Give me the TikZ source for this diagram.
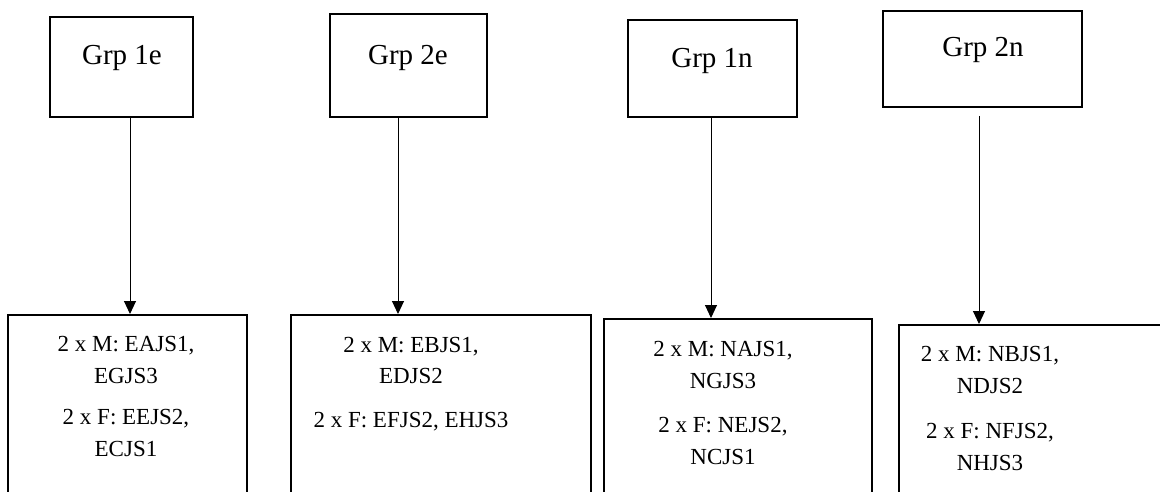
\documentclass[tikz,border=0pt]{standalone}
\usepackage{fontspec}
\setmainfont{Liberation Serif}
\usetikzlibrary{arrows.meta}

\begin{document}
\begin{tikzpicture}[
    x=1pt, y=-1pt,
    grpbox/.style={draw, line width=2pt, inner sep=0pt},
    grplabel/.style={anchor=base, inner sep=0pt, font=\fontsize{29}{34}\selectfont},
    membox/.style={draw, line width=2pt, inner sep=0pt},
    memlabel/.style={anchor=base, inner sep=0pt, align=center, font=\fontsize{23}{31.5}\selectfont},
    arr/.style={-{Triangle[width=12pt, length=13pt]}, line width=1pt}
  ]
  \useasboundingbox (0,0) rectangle (1160,492);
  \clip (0,0) rectangle (1160,492);
  % group boxes
  \node[grpbox, minimum width=143pt, minimum height=100pt] (g1e) at (121.5,67) {};
  \node[grpbox, minimum width=157pt, minimum height=103pt] (g2e) at (408.5,65.5) {};
  \node[grpbox, minimum width=169pt, minimum height=97pt] (g1n) at (712.5,68.5) {};
  \node[grpbox, minimum width=199pt, minimum height=96pt] (g2n) at (982.5,59) {};
  \node[grplabel] (t1e) at (122,65) {Grp 1e};
  \node[grplabel] (t2e) at (408,65) {Grp 2e};
  \node[grplabel] (t1n) at (712,68) {Grp 1n};
  \node[grplabel] (t2n) at (983,57) {Grp 2n};
  % member boxes (labels sit on their last baseline)
  \node[membox, minimum width=239pt, minimum height=185pt] (m1e) at (127.5,407.5) {};
  \node[membox, minimum width=300pt, minimum height=185pt] (m2e) at (441,407.5) {};
  \node[membox, minimum width=268pt, minimum height=181pt] (m1n) at (738,409.5) {};
  \node[membox, minimum width=271pt, minimum height=175pt] (m2n) at (1034.5,412.5) {};
  \node[memlabel] (l1e) at (126,456) {2 x M: EAJS1,\\EGJS3\\[10pt]2 x F: EEJS2,\\ECJS1};
  \node[memlabel] (l2e) at (411,427) {2 x M: EBJS1,\\EDJS2\\[12pt]2 x F: EFJS2, EHJS3};
  \node[memlabel] (l1n) at (723,464) {2 x M: NAJS1,\\NGJS3\\[13pt]2 x F: NEJS2,\\NCJS1};
  \node[memlabel] (l2n) at (990,470) {2 x M: NBJS1,\\NDJS2\\[14pt]2 x F: NFJS2,\\NHJS3};
  % arrows
  \foreach \g/\m/\x in {g1e/m1e/130, g2e/m2e/398, g1n/m1n/711} {
    \coordinate (a) at (\x,0);
    \draw[arr] (a |- \g.south) -- (a |- \m.north);
  }
  \coordinate (a2n) at (979,116);
  \draw[arr] (a2n) -- (a2n |- m2n.north);
\end{tikzpicture}
\end{document}
